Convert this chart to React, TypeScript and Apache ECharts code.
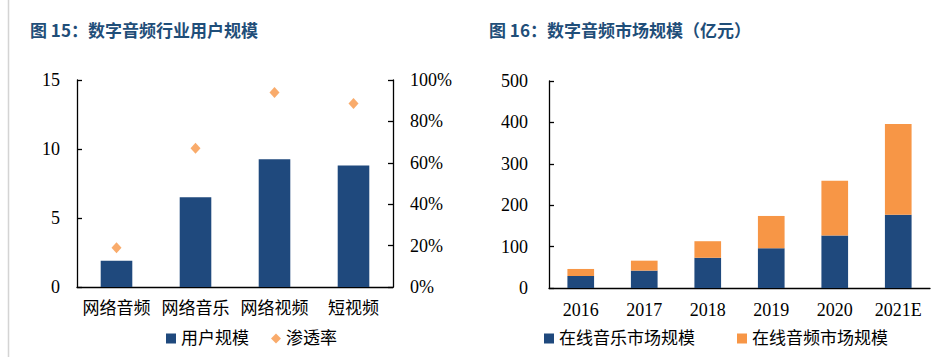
import React, { useEffect, useRef } from "react";
import * as echarts from "echarts";

const userCategories = ["网络音频", "网络音乐", "网络视频", "短视频"];
const userScale = [1.9, 6.5, 9.25, 8.8];
const penetration = [19, 67, 94, 88.7];

const years = ["2016", "2017", "2018", "2019", "2020", "2021E"];
const musicMarket = [29, 42, 73, 96, 127, 177];
const audioMarket = [17, 24, 40, 78, 132, 219];

const BLUE = "#1F497D";
const ORANGE = "#F79646";
const FONT = "'Liberation Serif', 'Noto Sans CJK SC', serif";
const TITLE_COLOR = "#1F4E79";

export default function App() {
  const ref = useRef<HTMLDivElement>(null);
  useEffect(() => {
    const chart = echarts.init(ref.current!, undefined, { renderer: "svg" });
    const axisLine = { show: true, lineStyle: { color: "#000", width: 1.3 } };
    const axisTick = { show: true, inside: true, length: 5, lineStyle: { color: "#000", width: 1.3 } };
    const labelStyle = { color: "#000", fontSize: 17, fontFamily: FONT };
    const numStyle = { color: "#000", fontSize: 18, fontFamily: FONT };
    chart.setOption({
      animation: false,
      backgroundColor: "#fff",
      title: [
        {
          text: "图 15：数字音频行业用户规模",
          left: 25,
          top: 16,
          textStyle: { color: TITLE_COLOR, fontSize: 17, fontWeight: "bold", fontFamily: "'Noto Sans CJK SC', sans-serif" },
        },
        {
          text: "图 16：数字音频市场规模（亿元）",
          left: 484,
          top: 16,
          textStyle: { color: TITLE_COLOR, fontSize: 17, fontWeight: "bold", fontFamily: "'Noto Sans CJK SC', sans-serif" },
        },
      ],
      graphic: [
        { type: "line", shape: { x1: 8.5, y1: 0, x2: 8.5, y2: 357 }, style: { stroke: "#d4d4d4", lineWidth: 1.5 } },
      ],
      legend: [
        {
          data: [
            { name: "用户规模", icon: "rect" },
            { name: "渗透率", icon: "diamond" },
          ],
          left: 161,
          top: 325,
          itemWidth: 10,
          itemHeight: 10,
          itemGap: 22,
          textStyle: { color: "#000", fontSize: 17, fontFamily: FONT },
        },
        {
          data: [
            { name: "在线音乐市场规模", icon: "rect" },
            { name: "在线音频市场规模", icon: "rect" },
          ],
          left: 539,
          top: 325,
          itemWidth: 10,
          itemHeight: 10,
          itemGap: 42,
          textStyle: { color: "#000", fontSize: 17, fontFamily: FONT },
        },
      ],
      grid: [
        { left: 77, right: 945 - 393, top: 80, height: 207 },
        { left: 549, right: 945 - 930, top: 81, height: 207 },
      ],
      xAxis: [
        {
          type: "category",
          gridIndex: 0,
          data: userCategories,
          axisLine,
          axisTick: { show: false },
          axisLabel: { ...labelStyle, margin: 13, interval: 0 },
        },
        {
          type: "category",
          gridIndex: 1,
          data: years,
          axisLine,
          axisTick: { show: false },
          axisLabel: { ...numStyle, margin: 13, interval: 0 },
        },
      ],
      yAxis: [
        {
          type: "value",
          gridIndex: 0,
          min: 0,
          max: 15,
          interval: 5,
          axisLine,
          axisTick,
          splitLine: { show: false },
          axisLabel: { ...numStyle, margin: 17 },
        },
        {
          type: "value",
          gridIndex: 0,
          position: "right",
          min: 0,
          max: 100,
          interval: 20,
          axisLine,
          axisTick,
          splitLine: { show: false },
          axisLabel: { ...numStyle, margin: 17, formatter: "{value}%" },
        },
        {
          type: "value",
          gridIndex: 1,
          min: 0,
          max: 500,
          interval: 100,
          axisLine,
          axisTick,
          splitLine: { show: false },
          axisLabel: { ...numStyle, margin: 21 },
        },
      ],
      series: [
        {
          name: "用户规模",
          type: "bar",
          xAxisIndex: 0,
          yAxisIndex: 0,
          data: userScale,
          barWidth: "40%",
          itemStyle: { color: BLUE },
        },
        {
          name: "渗透率",
          type: "scatter",
          xAxisIndex: 0,
          yAxisIndex: 1,
          data: penetration,
          symbol: "diamond",
          symbolSize: [10, 11],
          itemStyle: { color: ORANGE },
        },
        {
          name: "在线音乐市场规模",
          type: "bar",
          stack: "m",
          xAxisIndex: 1,
          yAxisIndex: 2,
          data: musicMarket,
          barWidth: "42%",
          itemStyle: { color: BLUE },
        },
        {
          name: "在线音频市场规模",
          type: "bar",
          stack: "m",
          xAxisIndex: 1,
          yAxisIndex: 2,
          data: audioMarket,
          barWidth: "42%",
          itemStyle: { color: ORANGE },
        },
      ],
    });
    return () => chart.dispose();
  }, []);
  return <div ref={ref} style={{ width: 945, height: 357, position: "fixed", left: 0, top: 0 }} />;
}
